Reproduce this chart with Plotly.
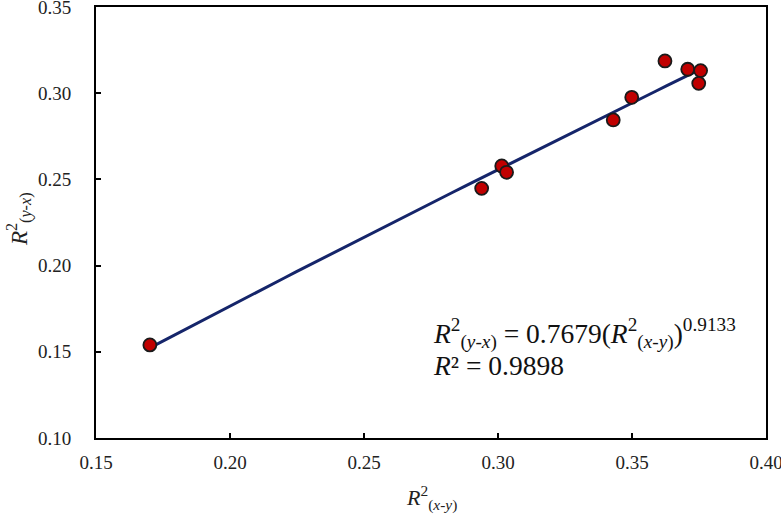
import numpy as np
import plotly.graph_objects as go

# Data
r2_xy = [0.1701, 0.2939, 0.3014, 0.3032, 0.3430, 0.3499, 0.3623, 0.3708, 0.3756, 0.3749]
r2_yx = [0.1540, 0.2448, 0.2578, 0.2541, 0.2845, 0.2976, 0.3187, 0.3139, 0.3131, 0.3057]

# Power-law trendline coefficients shown on the chart
fit_a = 0.7679
fit_b = 0.9133

x_ticks = [0.15, 0.20, 0.25, 0.30, 0.35, 0.40]
y_ticks = [0.10, 0.15, 0.20, 0.25, 0.30, 0.35]
x_labels = ["0.15", "0.20", "0.25", "0.30", "0.35", "0.40"]
y_labels = ["0.10", "0.15", "0.20", "0.25", "0.30", "0.35"]

fit_x = np.linspace(min(r2_xy), max(r2_xy), 50)
fit_y = fit_a * fit_x ** fit_b

FONT = "Liberation Serif"

fig = go.Figure()
fig.add_trace(go.Scatter(
    x=fit_x, y=fit_y, mode="lines",
    line=dict(color="#15256A", width=3),
    showlegend=False, hoverinfo="skip"))
fig.add_trace(go.Scatter(
    x=r2_xy, y=r2_yx, mode="markers",
    marker=dict(size=13, color="#C00000", line=dict(color="#1a1a1a", width=1.8)),
    showlegend=False))

axis_common = dict(
    showgrid=False, zeroline=False, showline=True, linecolor="black", linewidth=2,
    mirror=True, ticks="inside", ticklen=5, tickwidth=2, tickcolor="black",
    tickfont=dict(family=FONT, size=19, color="#222"), automargin=False,
    ticklabeloverflow="allow",
)

fig.update_xaxes(range=[0.15, 0.40], tickvals=x_ticks, ticktext=x_labels,
                 ticklabelstandoff=6, **axis_common)
fig.update_yaxes(range=[0.10, 0.35], tickvals=y_ticks, ticktext=y_labels,
                 ticklabelstandoff=19, **axis_common)

# Axis titles
fig.add_annotation(
    xref="paper", yref="paper", x=0.5, y=-(498 - 438) / 431, xanchor="center", yanchor="middle",
    text="<i>R</i><sup>2</sup><sub>(<i>x</i>-<i>y</i>)</sub>",
    showarrow=False, font=dict(family=FONT, size=22, color="#222"))
fig.add_annotation(
    xref="paper", yref="paper", x=-(96 - 19) / 670, y=(438 - 219) / 431, xanchor="center", yanchor="middle",
    text="<i>R</i><sup>2</sup><sub>(<i>y</i>-<i>x</i>)</sub>", textangle=-90,
    showarrow=False, font=dict(family=FONT, size=23, color="#222"))

# Trendline equation
fig.add_annotation(
    xref="paper", yref="paper", x=0.5, y=(438 - 333) / 431, xanchor="left", yanchor="middle",
    text="<i>R</i><sup>2</sup><sub>(<i>y</i>-<i>x</i>)</sub> = 0.7679(<i>R</i><sup>2</sup><sub>(<i>x</i>-<i>y</i>)</sub>)<sup>0.9133</sup>",
    showarrow=False, font=dict(family=FONT, size=27.5, color="#111"), align="left")
fig.add_annotation(
    xref="paper", yref="paper", x=0.5, y=(438 - 365) / 431, xanchor="left", yanchor="middle",
    text="<i>R</i>² = 0.9898",
    showarrow=False, font=dict(family=FONT, size=27.5, color="#111"), align="left")

fig.update_layout(
    width=781, height=516,
    margin=dict(l=96, r=15, t=7, b=78),
    plot_bgcolor="white", paper_bgcolor="white",
    font=dict(family=FONT),
)

fig.write_html("out.html", config={"displayModeBar": False},
               post_script="document.body.style.margin='0';")
